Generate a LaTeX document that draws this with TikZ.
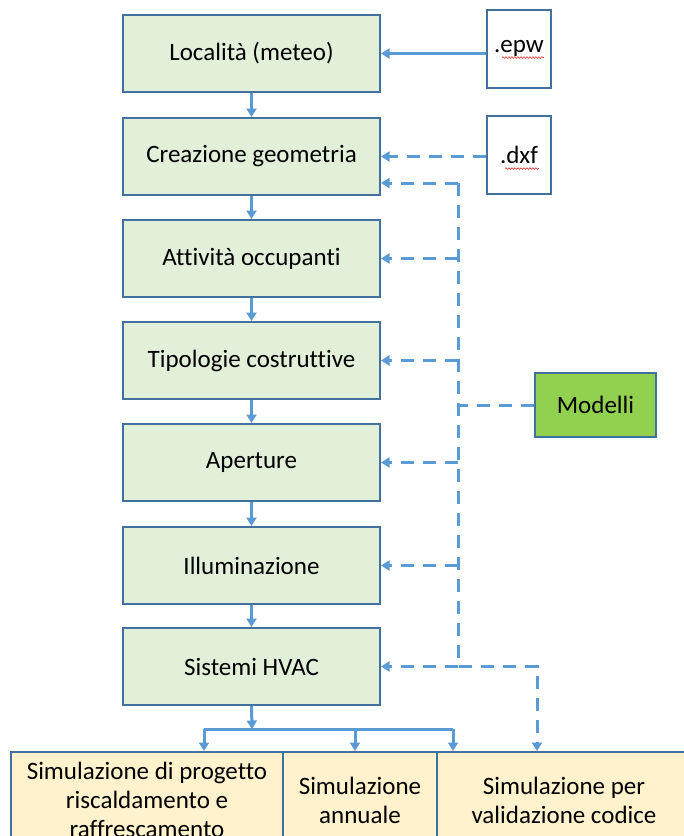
\documentclass[tikz,border=0pt]{standalone}
\usepackage{fontspec}
\setmainfont{Carlito}[Ligatures=NoCommon]
\usetikzlibrary{arrows.meta,positioning,decorations.pathmorphing}
\definecolor{lineblue}{HTML}{41719C}
\definecolor{arrblue}{HTML}{5B9BD5}
\definecolor{boxgreen}{HTML}{E2F0D9}
\definecolor{modgreen}{HTML}{92D050}
\definecolor{simfill}{HTML}{FFF2CC}
\definecolor{spellred}{HTML}{E04848}
\tikzset{
  blk/.style={draw=lineblue,fill=boxgreen,line width=2pt,minimum width=257pt,minimum height=77pt,inner sep=0pt},
  filebox/.style={draw=lineblue,fill=white,line width=2pt,minimum width=64pt,minimum height=78pt,inner sep=0pt},
  modbox/.style={draw=lineblue,fill=modgreen,line width=2pt,minimum width=121pt,minimum height=64pt,inner sep=0pt},
  simbox/.style={draw=lineblue,fill=simfill,line width=2pt,minimum height=96pt,align=center,inner sep=0pt},
  arr/.style={-{Triangle[length=8.5pt,width=10pt]},color=arrblue,line width=3pt},
  darr/.style={arr,dash pattern=on 13pt off 9pt},
  dline/.style={color=arrblue,line width=3pt,dash pattern=on 13pt off 9pt},
  spell/.style={draw=spellred,line width=0.7pt,decorate,decoration={snake,amplitude=0.8pt,segment length=3pt}},
  every node/.style={font=\fontsize{25}{29}\selectfont}
}

\begin{document}
\begin{tikzpicture}[x=1pt,y=-1pt]
\useasboundingbox (0,0) rectangle (684,836);
\clip (0,0) rectangle (684,836);
% main chain
\node[blk] (loc) at (251.5,53.5) {Località (meteo)};
\node[blk] (geo) at (251.5,156.5) {Creazione geometria};
\node[blk] (att) at (251.5,258.5) {Attività occupanti};
\node[blk] (tip) at (251.5,360.5) {Tipologie costruttive};
\node[blk] (ape) at (251.5,462.5) {Aperture};
\node[blk] (ill) at (251.5,565.5) {Illuminazione};
\node[blk] (hvac) at (251.5,666.5) {Sistemi HVAC};
\foreach \a/\b in {loc/geo,geo/att,att/tip,tip/ape,ape/ill,ill/hvac}
  \draw[arr] (\a) -- (\b);
% input files
\node[filebox] (epw) at (519,48.5) {.epw};
\node[filebox] (dxf) at (519,155) {.dxf};
\draw[spell] ([xshift=-17pt,yshift=-5pt]epw.base) -- ([xshift=25pt,yshift=-5pt]epw.base);
\draw[spell] ([xshift=-14pt,yshift=-5pt]dxf.base) -- ([xshift=20pt,yshift=-5pt]dxf.base);
\draw[arr] (loc.east -| epw.west) -- (loc.east);
\draw[darr] (geo.east -| dxf.west) -- (geo.east);
% models bus
\node[modbox] (mod) at (595.5,405) {Modelli};
\coordinate (bus) at (458,183);
\coordinate (busend) at (458,666.5);
\coordinate (vbend) at (537,666.5);
\draw[darr] (bus) -- (geo.east |- bus);
\foreach \b in {att,tip,ape,ill,hvac}
  \draw[darr] (\b.east -| bus) -- (\b.east);
\draw[dline] (mod.west) -- (mod.west -| bus);
% results
\node[simbox,minimum width=272pt] (sim1) at (147,800) {Simulazione di progetto\\riscaldamento e\\raffrescamento};
\node[simbox,minimum width=154pt] (sim2) at (360,800) {Simulazione\\annuale};
\node[simbox,minimum width=254pt] (sim3) at (564,800) {Simulazione per\\validazione codice};
\draw[darr] (bus) -- (busend) -- (vbend) -- (vbend |- sim3.north);
\coordinate (fork) at (252,729);
\coordinate (forkL) at (204,729);
\coordinate (forkM) at (355,729);
\coordinate (forkR) at (453,729);
\draw[arr] (hvac.south) -- (fork);
\draw[arr,line join=round] (forkR) -- (forkL) -- (forkL |- sim1.north);
\draw[arr] (forkM) -- (forkM |- sim2.north);
\draw[arr] (forkR) -- (forkR |- sim3.north);
\end{tikzpicture}
\end{document}
